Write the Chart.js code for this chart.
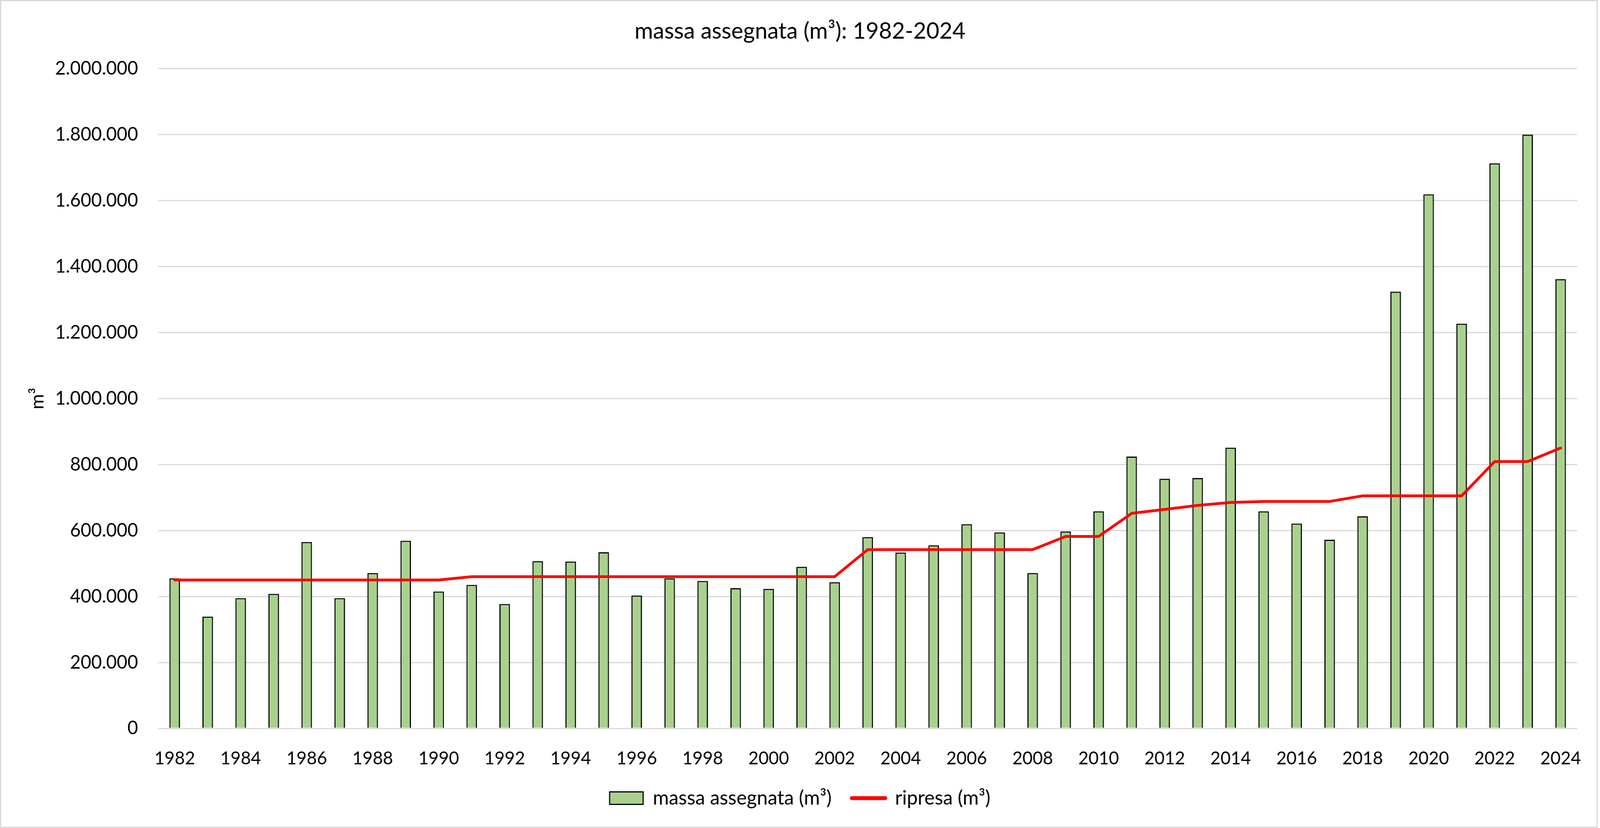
<!DOCTYPE html>
<html>
<head>
<meta charset="utf-8">
<script src="https://cdn.jsdelivr.net/npm/chart.js@4.4.1/dist/chart.umd.min.js"></script>
<style>
  html, body { margin: 0; padding: 0; background: #fff; overflow: hidden; }
  canvas { display: block; }
</style>
</head>
<body>
<!-- drawn at 4197x2120, stretched to whatever the window really is -->
<canvas id="chart" width="4197" height="2120" style="width:100vw;height:100vh"></canvas>
<script>
const years = [
  '1982', '1983', '1984', '1985', '1986', '1987', '1988', '1989', '1990', '1991',
  '1992', '1993', '1994', '1995', '1996', '1997', '1998', '1999', '2000', '2001',
  '2002', '2003', '2004', '2005', '2006', '2007', '2008', '2009', '2010', '2011',
  '2012', '2013', '2014', '2015', '2016', '2017', '2018', '2019', '2020', '2021',
  '2022', '2023', '2024'
];

// massa assegnata (m³), bars
const massaAssegnata = [
  455000, 339000, 395000, 408000, 565000, 395000, 471000, 569000, 415000, 435000,
  377000, 507000, 506000, 534000, 403000, 455000, 447000, 425000, 423000, 490000,
  443000, 580000, 533000, 555000, 619000, 594000, 471000, 597000, 658000, 824000,
  757000, 759000, 851000, 658000, 621000, 572000, 643000, 1324000, 1619000, 1227000,
  1713000, 1800000, 1362000
];

// ripresa (m³), red line
const ripresa = [
  450000, 450000, 450000, 450000, 450000, 450000, 450000, 450000, 450000, 460000,
  460000, 460000, 460000, 460000, 460000, 460000, 460000, 460000, 460000, 460000,
  460000, 542000, 542000, 542000, 542000, 542000, 542000, 582000, 582000, 652000,
  664000, 676000, 685000, 688000, 688000, 688000, 705000, 705000, 705000, 705000,
  809000, 809000, 850000
];

const yTicks = [0, 200000, 400000, 600000, 800000, 1000000, 1200000, 1400000, 1600000, 1800000, 2000000];

const FONT = 'Lato, "Open Sans", sans-serif';

// 1.800.000 style
const fmt = (v) => String(v).replace(/\B(?=(\d{3})+(?!\d))/g, '.');

// white background + thin grey frame like the excel chart area
const frame = {
  id: 'frame',
  beforeDraw(chart) {
    const ctx = chart.ctx;
    ctx.save();
    ctx.fillStyle = '#ffffff';
    ctx.fillRect(0, 0, chart.width, chart.height);
    ctx.strokeStyle = '#d9d9d9';
    ctx.lineWidth = 3;
    ctx.strokeRect(1.5, 1.5, chart.width - 9, chart.height - 3);
    ctx.restore();
  }
};

new Chart(document.getElementById('chart').getContext('2d'), {
  type: 'bar',
  data: {
    labels: years,
    datasets: [
      {
        type: 'bar',
        label: 'massa assegnata (m³)',
        data: massaAssegnata,
        backgroundColor: '#a9d18e',
        borderColor: '#000000',
        borderWidth: 3,
        categoryPercentage: 1,
        barPercentage: 0.32,
        order: 2
      },
      {
        type: 'line',
        label: 'ripresa (m³)',
        data: ripresa,
        borderColor: '#ff0000',
        backgroundColor: '#ff0000',
        borderWidth: 7,
        borderCapStyle: 'round',
        borderJoinStyle: 'round',
        pointRadius: 0,
        tension: 0,
        order: 1
      }
    ]
  },
  options: {
    responsive: false,
    devicePixelRatio: 1,
    animation: false,
    layout: {
      padding: { left: 60, right: 60, top: 0, bottom: 41 }
    },
    scales: {
      x: {
        // labels are clipped to the scale box, keep it tall enough
        afterFit: (scale) => { scale.height = 100; },
        grid: { display: false },
        border: { display: false },
        ticks: {
          autoSkip: false,
          maxRotation: 0,
          padding: 42,
          color: '#000',
          font: { family: FONT, size: 46 },
          callback: function (value, index) {
            return index % 2 === 0 ? this.getLabelForValue(value) : '';
          }
        }
      },
      y: {
        min: 0,
        max: 2000000,
        afterFit: (scale) => { scale.width = 355; },
        afterBuildTicks: (scale) => { scale.ticks = yTicks.map(v => ({ value: v })); },
        grid: { color: '#d9d9d9', lineWidth: 3, drawTicks: false },
        border: { display: false },
        ticks: {
          padding: 53,
          color: '#000',
          font: { family: FONT, size: 48 },
          callback: (v) => fmt(v)
        },
        title: {
          display: true,
          text: 'm³',
          color: '#000',
          font: { family: FONT, size: 48 },
          padding: { top: 10, bottom: 0 }
        }
      }
    },
    plugins: {
      title: {
        display: true,
        text: 'massa assegnata (m³): 1982-2024',
        color: '#000',
        font: { family: FONT, size: 59, weight: 'normal' },
        padding: { top: 45, bottom: 60 }
      },
      legend: {
        position: 'bottom',
        labels: {
          usePointStyle: true,
          pointStyleWidth: 88,
          boxHeight: 32,
          padding: 53,
          color: '#000',
          font: { family: FONT, size: 51 },
          generateLabels: () => [
            {
              text: 'massa assegnata (m³)',
              fillStyle: '#a9d18e',
              strokeStyle: '#000000',
              lineWidth: 3,
              pointStyle: 'rect',
              datasetIndex: 0,
              hidden: false,
              fontColor: '#000'
            },
            {
              text: 'ripresa (m³)',
              fillStyle: '#ff0000',
              strokeStyle: '#ff0000',
              lineWidth: 10,
              lineCap: 'round',
              pointStyle: 'line',
              datasetIndex: 1,
              hidden: false,
              fontColor: '#000'
            }
          ]
        }
      },
      tooltip: { enabled: false }
    }
  },
  plugins: [frame]
});
</script>
</body>
</html>
